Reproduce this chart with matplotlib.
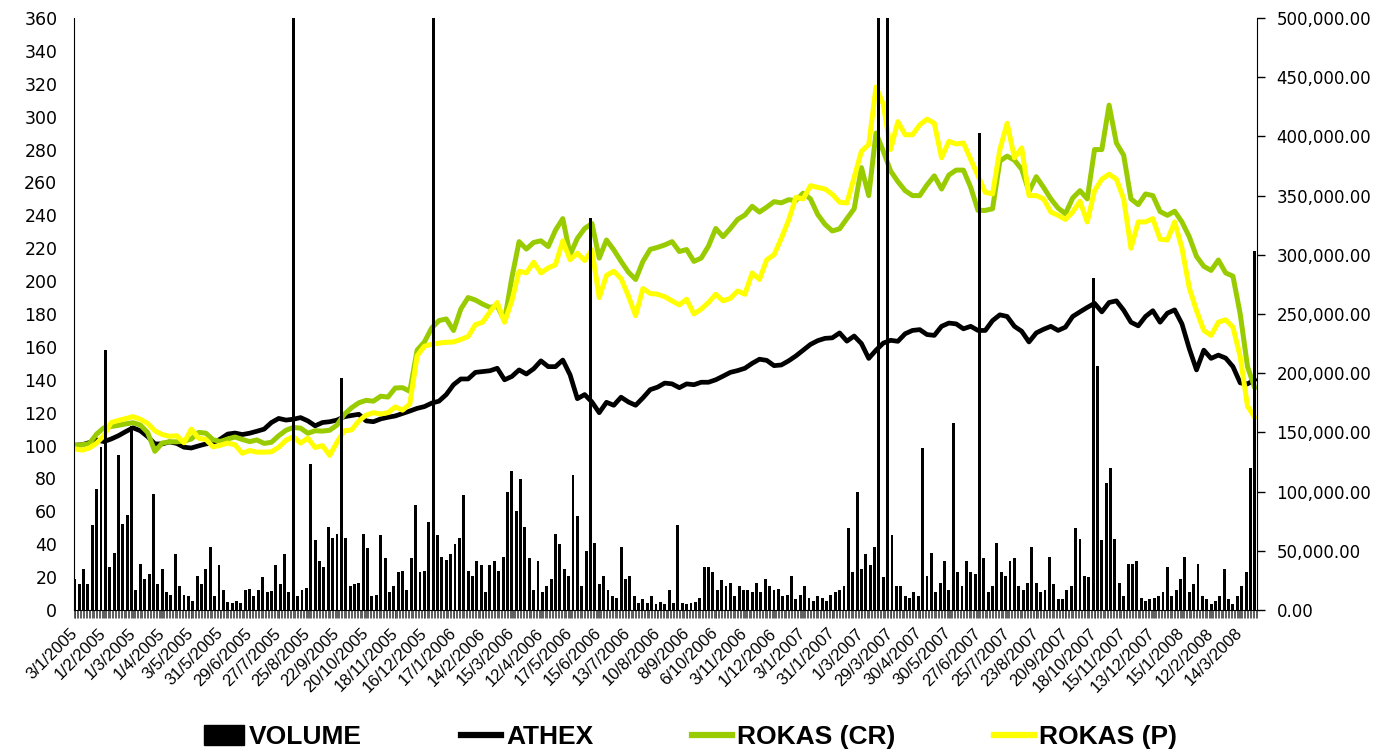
import numpy as np
import matplotlib
matplotlib.use("Agg")
import matplotlib.pyplot as plt
from matplotlib.lines import Line2D
from matplotlib.patches import Patch
from matplotlib.ticker import FuncFormatter

# trading-day axis: 812 sessions, labels every 20 sessions
n_days = 812
date_labels = ['3/1/2005', '1/2/2005', '1/3/2005', '1/4/2005', '3/5/2005', '31/5/2005',
               '29/6/2005', '27/7/2005', '25/8/2005', '22/9/2005', '20/10/2005', '18/11/2005',
               '16/12/2005', '17/1/2006', '14/2/2006', '15/3/2006', '12/4/2006', '17/5/2006',
               '15/6/2006', '13/7/2006', '10/8/2006', '8/9/2006', '6/10/2006', '3/11/2006',
               '1/12/2006', '3/1/2007', '31/1/2007', '1/3/2007', '29/3/2007', '30/4/2007',
               '30/5/2007', '27/6/2007', '25/7/2007', '23/8/2007', '20/9/2007', '18/10/2007',
               '15/11/2007', '13/12/2007', '15/1/2008', '12/2/2008', '14/3/2008']

# index series (base 100), read every 5th session
athex = [100.2, 100.5, 101.8, 103.4, 102.4, 104, 106, 108.5, 110.8, 109,
         105.5, 101, 101, 102.2, 101.3, 99, 98.5, 99.8, 101, 101.5,
         104, 107, 107.6, 106.7, 107.5, 108.7, 110, 114, 116.5, 115.5,
         116, 117, 115, 112, 114, 114.5, 115.5, 117.5, 118.3, 119,
         115, 114.5, 116.2, 117.2, 118, 119.5, 121, 122.6, 123.7, 125.8,
         127, 131, 137, 140.5, 140.5, 144.5, 145, 145.5, 147, 140,
         142, 146, 143.5, 146.7, 151.5, 148, 148, 152, 143, 128.5,
         131, 126.5, 120, 126.3, 124.5, 129.4, 126.5, 124.5, 129, 134,
         135.5, 138, 137.5, 135.2, 137.5, 137, 138.5, 138.5, 140, 142.2,
         144.5, 145.6, 147, 150, 152.5, 151.8, 148.6, 149, 151.5, 154.5,
         158, 161.5, 163.8, 165.2, 165.5, 168.5, 163.5, 166.6, 162, 153,
         158, 162.3, 164, 163.4, 168, 170, 170.5, 167.5, 167, 172.5,
         174.5, 174, 171, 172.5, 170, 170, 176, 179.5, 178.5, 172.5,
         169.5, 163, 168.5, 170.7, 172.5, 170, 172, 178.5, 181.3, 184,
         186.5, 181.3, 187, 188, 182.3, 175, 172.8, 178.5, 182, 175,
         180.5, 182.5, 174, 159, 146, 158, 153, 155, 153.2, 148,
         138.1, 137.5, 140]

rokas_cr = [100.2, 100.5, 101.2, 107, 110.8, 111.6, 112.3, 113.2, 113.9, 112.5,
            108, 96.5, 101.5, 102.3, 102.3, 102.7, 104, 108, 107.5, 103.5,
            102.5, 104, 105.2, 103.7, 102.4, 103.4, 101.3, 102, 106, 109.3,
            111, 110.6, 107.5, 109, 108.8, 109.3, 112.5, 119, 123, 126,
            127.5, 127, 130, 129.5, 135, 135.2, 133, 158, 163, 171.5,
            176, 177, 170, 183, 190, 188.5, 186, 184, 185, 176,
            202, 224, 219.5, 223.5, 224.5, 221, 231, 238, 216, 226,
            232, 235, 214, 225, 219, 212, 205.5, 201, 212, 219.3,
            220.5, 222, 224, 218, 219.2, 212, 214, 221.3, 232, 227,
            232, 237.5, 240.2, 245.5, 242, 245, 248.3, 247.6, 249.5, 249,
            253.5, 250, 240.5, 234.5, 230.5, 231.8, 238, 244, 269, 252,
            290, 279, 267, 260.5, 255, 252, 252, 258.5, 264, 256,
            264.5, 267.5, 267.5, 257, 243, 243, 244, 273, 276, 273.5,
            268, 254.5, 263.5, 257, 250, 244.4, 241, 250.5, 255, 250,
            280, 280, 307, 284, 276.5, 250, 246.5, 253, 252, 242.3,
            240, 242.5, 236, 227, 215, 209, 206.5, 212.8, 205, 203,
            180, 148, 135]

rokas_p = [98.1, 97.2, 98.5, 101.5, 106, 114, 115.3, 116.4, 117.6, 116,
           113.5, 109, 106.7, 105.6, 106, 101.7, 110, 104.5, 103.7, 99.2,
           100.2, 101.5, 100.5, 95.3, 97, 96, 96, 96.2, 99, 103.2,
           105.5, 101.5, 104.5, 98.8, 100, 94, 102, 109, 109.5, 115,
           118.5, 120, 119.2, 120, 123.5, 121.5, 125.3, 154.5, 160.4, 161.6,
           162.3, 162.8, 163, 164.5, 166.3, 173.5, 175, 181.3, 187, 175,
           188, 206, 205, 211.5, 205, 208, 210, 224.5, 213, 217,
           212.5, 219, 190, 203.5, 206, 201.5, 191, 179, 195.5, 192.5,
           192, 190.5, 188, 185.5, 189, 180, 183, 187, 192, 188,
           189.5, 194, 192, 205, 201, 213, 216, 226, 237, 251,
           250, 258, 257, 256, 252.8, 248, 247.5, 263, 279, 283,
           318, 307.6, 280, 297, 289, 289, 295, 298.5, 296, 275,
           285, 283.4, 284, 274, 264, 254, 253, 280, 296, 275,
           281, 252, 252, 250, 242, 240, 237.5, 242, 248.6, 236,
           255, 262, 265, 262, 250, 220, 236, 236, 238, 225.5,
           225, 236, 220, 196, 182, 170, 167, 175, 176.5, 172,
           154, 124, 117]

# volume in thousands of shares, read every 3rd session
volume_k = [26, 22, 35, 22, 72, 102, 138, 220, 36, 48,
            131, 73, 80, 155, 17, 39, 26, 30, 98, 22,
            35, 15, 13, 47, 20, 13, 12, 8, 29, 22,
            35, 53, 12, 38, 17, 7, 6, 8, 6, 17,
            18, 12, 17, 28, 15, 16, 38, 22, 47, 15,
            600, 12, 17, 19, 123, 59, 41, 36, 70, 61,
            64, 196, 61, 20, 22, 23, 64, 52, 12, 13,
            63, 44, 15, 20, 32, 33, 17, 44, 89, 32,
            33, 74, 600, 63, 45, 42, 47, 56, 61, 97,
            33, 29, 41, 38, 15, 38, 41, 33, 45, 100,
            117, 84, 111, 70, 44, 17, 41, 15, 20, 26,
            64, 56, 35, 29, 114, 79, 20, 50, 331, 57,
            22, 29, 17, 12, 10, 53, 26, 29, 12, 6,
            9, 6, 12, 5, 7, 5, 17, 6, 72, 6,
            5, 6, 7, 10, 36, 36, 32, 17, 25, 20,
            23, 12, 20, 17, 17, 15, 23, 15, 26, 20,
            17, 18, 12, 13, 29, 9, 13, 20, 10, 8,
            12, 10, 8, 13, 15, 17, 20, 69, 32, 100,
            35, 47, 38, 53, 600, 28, 600, 63, 20, 20,
            12, 10, 15, 12, 137, 29, 48, 15, 23, 41,
            17, 158, 32, 20, 41, 32, 30, 403, 44, 15,
            20, 57, 32, 29, 41, 44, 20, 17, 23, 53,
            23, 15, 17, 45, 22, 9, 9, 17, 20, 69,
            60, 29, 28, 280, 206, 59, 107, 120, 60, 23,
            12, 39, 39, 41, 10, 8, 9, 10, 12, 15,
            36, 12, 17, 26, 45, 15, 22, 39, 12, 9,
            5, 8, 12, 35, 9, 5, 12, 20, 32, 120,
            303]

line_idx = np.arange(0, n_days, 5)[:len(athex)]
vol_idx = np.arange(0, n_days, 3)[:len(volume_k)]
volume = np.array(volume_k) * 1000.0

fig = plt.figure(figsize=(13.76, 7.53), dpi=100)
ax = fig.add_axes([0.0538, 0.1899, 0.8597, 0.7862])
ax2 = ax.twinx()

for vals, col, lw in [(athex, 'black', 3.4), (rokas_cr, '#99CC00', 3.6), (rokas_p, '#FFFF00', 3.6)]:
    ax.plot(line_idx, vals, color=col, lw=lw, solid_joinstyle='round', solid_capstyle='round')

ax2.bar(vol_idx, volume, width=2.0, color='black', linewidth=0)

ax.set_xlim(-0.5, n_days - 0.5)
ax.set_ylim(0, 360)
ax2.set_ylim(0, 500000)

ax.set_yticks(np.arange(0, 361, 20))
ax2.set_yticks(np.arange(0, 500001, 50000))
ax2.yaxis.set_major_formatter(FuncFormatter(lambda v, p: f'{v:,.2f}'))

ax.set_xticks(np.arange(0, n_days, 20)[:len(date_labels)])
ax.set_xticklabels(date_labels, rotation=45, ha='right', va='center',
                   rotation_mode='anchor', fontsize=12, family='Liberation Sans')
ax.set_xticks(np.arange(-0.5, n_days, 1), minor=True)
ax.tick_params(axis='x', which='both', direction='out', length=6, width=0.6,
               color='#444444', pad=9)
ax.tick_params(axis='y', length=0, pad=12, labelsize=12.5)
ax2.tick_params(axis='y', direction='out', length=6, width=1, pad=8, labelsize=12)

for a in (ax, ax2):
    a.spines['top'].set_visible(False)
ax.spines['right'].set_visible(False)
ax2.spines['left'].set_visible(False)
ax2.spines['bottom'].set_visible(False)

handles = [Patch(facecolor='black', edgecolor='black'),
           Line2D([], [], color='black', lw=4.5),
           Line2D([], [], color='#99CC00', lw=4.5),
           Line2D([], [], color='#FFFF00', lw=4.5)]
fig.legend(handles, ['VOLUME', 'ATHEX', 'ROKAS (CR)', 'ROKAS (P)'],
           loc='center', bbox_to_anchor=(0.502, 0.021), ncol=4, frameon=False,
           prop={'family': 'Liberation Sans', 'weight': 'bold', 'size': 19},
           handlelength=1.5, handleheight=0.75, handletextpad=0.2, columnspacing=3.75)

fig.savefig('out.png', dpi=100)
